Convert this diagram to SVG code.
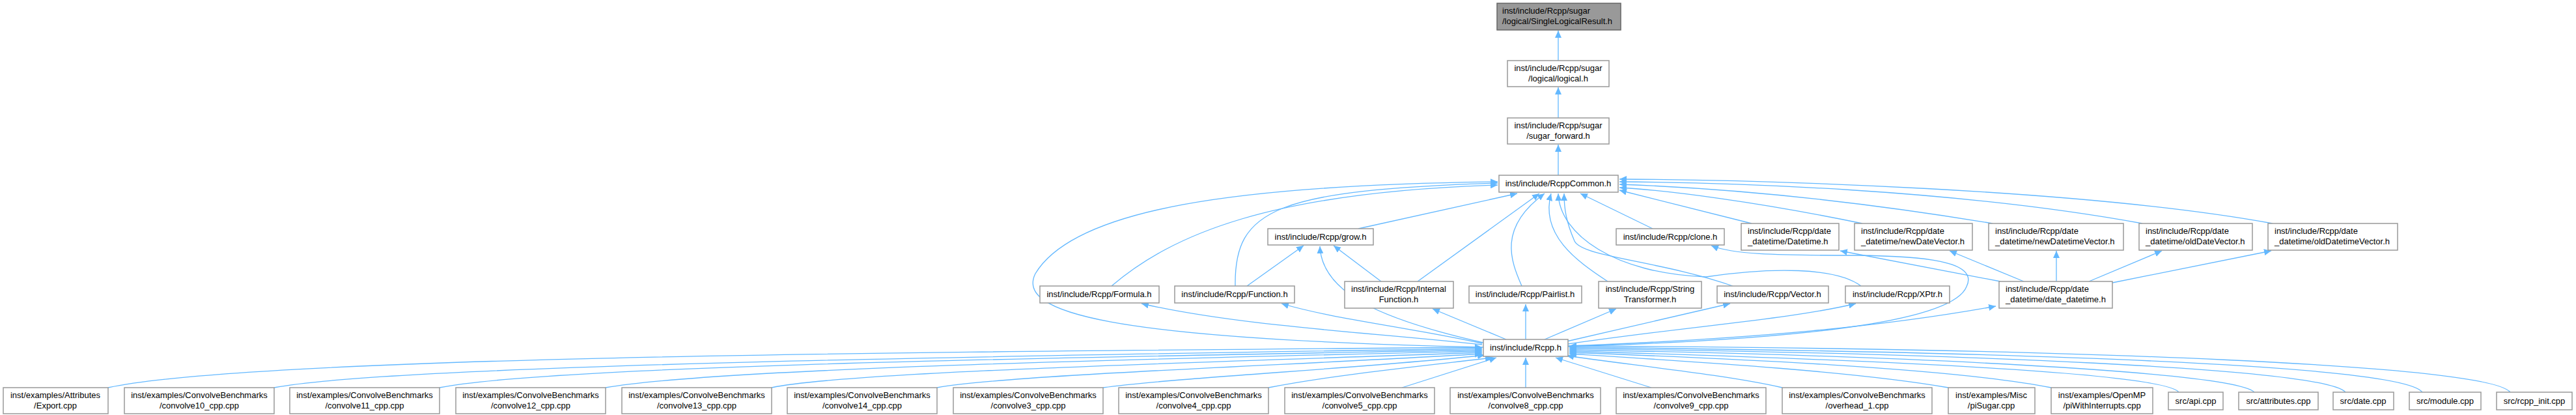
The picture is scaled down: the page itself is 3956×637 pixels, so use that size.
<svg xmlns="http://www.w3.org/2000/svg" width="3956" height="637" viewBox="0 0 3956 637">
<style>
.n rect{fill:#fff;stroke:#999;stroke-width:1.5}
.root rect{fill:#999;stroke:#666}
text{font-family:"Liberation Sans",Arial,sans-serif;font-size:13px;fill:#000}
.c{text-anchor:middle}
#edges path{fill:none;stroke:#63b8ff;stroke-width:1.3;marker-end:url(#a)}
</style>
<defs><marker id="a" markerUnits="userSpaceOnUse" markerWidth="12" markerHeight="10" refX="11" refY="5" orient="auto"><path d="M0,0 L11,5 L0,10 z" fill="#63b8ff"/></marker></defs>
<rect width="3956" height="637" fill="#fff"/>
<g id="edges">
<path d="M2393,93 L2393,47"/>
<path d="M2393,181 L2393,134"/>
<path d="M2393,269 L2393,222"/>
<path d="M2086,351 L2330,297"/>
<path d="M1707,439 C1800,360 1950,295 2300,284"/>
<path d="M1897,439 C1895,320 1960,292 2300,281"/>
<path d="M2278,533 C1700,520 1560,480 1590,420 C1650,320 1900,284 2300,279"/>
<path d="M2177,432 L2364,297"/>
<path d="M2337,439 C2320,400 2300,350 2372,297"/>
<path d="M2469,432 C2420,400 2365,360 2382,297"/>
<path d="M2538,351 L2427,297"/>
<path d="M2661,439 C2550,400 2430,395 2418,370 C2405,340 2402,320 2402,297"/>
<path d="M2858,439 C2820,410 2720,410 2620,425 C2480,420 2395,360 2393,297"/>
<path d="M2690,343 L2487,292"/>
<path d="M2860,343 C2700,310 2560,292 2487,288"/>
<path d="M3060,343 C2800,300 2600,287 2487,283"/>
<path d="M3290,343 C3000,290 2650,280 2487,279"/>
<path d="M3490,343 C3200,290 2700,276 2487,275"/>
<path d="M2408,532 C2800,520 3000,490 3020,440 C3040,400 2950,393 2850,392 C2720,392 2660,390 2628,377"/>
<path d="M3072,432 L2826,385"/>
<path d="M3108,432 L2994,385"/>
<path d="M3158,432 L3158,385"/>
<path d="M3208,432 L3320,385"/>
<path d="M3244,434 L3488,385"/>
<path d="M1915,439 L2002,377"/>
<path d="M2121,432 L2048,377"/>
<path d="M2278,526 C2120,490 2030,450 2027,378"/>
<path d="M2276,529 C2100,510 1900,500 1753,466"/>
<path d="M2276,527 C2150,500 2050,490 1968,466"/>
<path d="M2313,521 L2200,474"/>
<path d="M2343,521 L2343,467"/>
<path d="M2372,521 L2482,474"/>
<path d="M2406,524 L2657,466"/>
<path d="M2408,528 C2600,500 2750,490 2850,466"/>
<path d="M2408,531 C2700,520 2900,500 3065,470"/>
<path d="M166,595 C400,545 1500,540 2276,533"/>
<path d="M421,595 C600,560 1600,545 2276,535"/>
<path d="M675,595 C850,560 1700,548 2276,537"/>
<path d="M930,595 C1100,565 1800,550 2276,539"/>
<path d="M1185,595 C1300,570 1900,555 2276,541"/>
<path d="M1439,595 C1550,575 2000,560 2276,543"/>
<path d="M1694,595 C1800,580 2100,565 2280,545"/>
<path d="M1948,595 C2050,575 2200,560 2292,549"/>
<path d="M2153,595 L2298,549"/>
<path d="M2343,595 L2343,549"/>
<path d="M2536,595 L2389,549"/>
<path d="M2737,595 C2650,575 2500,560 2406,546"/>
<path d="M2992,595 C2850,570 2600,555 2410,543"/>
<path d="M3150,595 C3000,565 2650,550 2410,541"/>
<path d="M3346,602 C3320,570 2800,550 2410,539"/>
<path d="M3462,602 C3430,570 2900,545 2410,537"/>
<path d="M3602,602 C3570,565 3000,542 2410,535"/>
<path d="M3720,602 C3690,560 3100,540 2410,533"/>
<path d="M3855,602 C3820,560 3200,535 2410,531"/>
</g>
<g id="n0" class="n root"><rect x="2299" y="5" width="190" height="41"/><text x="2307" y="21">inst/include/Rcpp/sugar</text><text x="2307" y="37">/logical/SingleLogicalResult.h</text></g>
<g id="n1" class="n"><rect x="2315" y="93" width="156" height="40"/><text class="c" x="2393" y="109">inst/include/Rcpp/sugar</text><text class="c" x="2393" y="125">/logical/logical.h</text></g>
<g id="n2" class="n"><rect x="2315" y="181" width="156" height="40"/><text class="c" x="2393" y="197">inst/include/Rcpp/sugar</text><text class="c" x="2393" y="213">/sugar_forward.h</text></g>
<g id="n3" class="n"><rect x="2302" y="269" width="183" height="26"/><text class="c" x="2393" y="286">inst/include/RcppCommon.h</text></g>
<g id="n4" class="n"><rect x="1947" y="351" width="162" height="25"/><text class="c" x="2028" y="368">inst/include/Rcpp/grow.h</text></g>
<g id="n5" class="n"><rect x="2482" y="351" width="166" height="25"/><text class="c" x="2565" y="368">inst/include/Rcpp/clone.h</text></g>
<g id="n6" class="n"><rect x="2674" y="343" width="150" height="41"/><text x="2684" y="359">inst/include/Rcpp/date</text><text x="2684" y="375">_datetime/Datetime.h</text></g>
<g id="n7" class="n"><rect x="2848" y="343" width="181" height="41"/><text x="2858" y="359">inst/include/Rcpp/date</text><text x="2858" y="375">_datetime/newDateVector.h</text></g>
<g id="n8" class="n"><rect x="3054" y="343" width="207" height="41"/><text x="3064" y="359">inst/include/Rcpp/date</text><text x="3064" y="375">_datetime/newDatetimeVector.h</text></g>
<g id="n9" class="n"><rect x="3285" y="343" width="174" height="41"/><text x="3295" y="359">inst/include/Rcpp/date</text><text x="3295" y="375">_datetime/oldDateVector.h</text></g>
<g id="n10" class="n"><rect x="3483" y="343" width="199" height="41"/><text x="3493" y="359">inst/include/Rcpp/date</text><text x="3493" y="375">_datetime/oldDatetimeVector.h</text></g>
<g id="n11" class="n"><rect x="1597" y="439" width="183" height="26"/><text class="c" x="1688" y="456">inst/include/Rcpp/Formula.h</text></g>
<g id="n12" class="n"><rect x="1804" y="439" width="184" height="26"/><text class="c" x="1896" y="456">inst/include/Rcpp/Function.h</text></g>
<g id="n13" class="n"><rect x="2065" y="432" width="167" height="41"/><text class="c" x="2148" y="448">inst/include/Rcpp/Internal</text><text class="c" x="2148" y="464">Function.h</text></g>
<g id="n14" class="n"><rect x="2256" y="439" width="173" height="26"/><text class="c" x="2342" y="456">inst/include/Rcpp/Pairlist.h</text></g>
<g id="n15" class="n"><rect x="2455" y="432" width="158" height="41"/><text class="c" x="2534" y="448">inst/include/Rcpp/String</text><text class="c" x="2534" y="464">Transformer.h</text></g>
<g id="n16" class="n"><rect x="2637" y="439" width="171" height="26"/><text class="c" x="2722" y="456">inst/include/Rcpp/Vector.h</text></g>
<g id="n17" class="n"><rect x="2834" y="439" width="160" height="26"/><text class="c" x="2914" y="456">inst/include/Rcpp/XPtr.h</text></g>
<g id="n18" class="n"><rect x="3070" y="432" width="174" height="41"/><text x="3080" y="448">inst/include/Rcpp/date</text><text x="3080" y="464">_datetime/date_datetime.h</text></g>
<g id="n19" class="n"><rect x="2278" y="521" width="130" height="26"/><text class="c" x="2343" y="538">inst/include/Rcpp.h</text></g>
<g id="b0" class="n"><rect x="5" y="595" width="161" height="40"/><text class="c" x="85" y="611">inst/examples/Attributes</text><text class="c" x="85" y="627">/Export.cpp</text></g>
<g id="b1" class="n"><rect x="191" y="595" width="230" height="40"/><text class="c" x="306" y="611">inst/examples/ConvolveBenchmarks</text><text class="c" x="306" y="627">/convolve10_cpp.cpp</text></g>
<g id="b2" class="n"><rect x="445" y="595" width="230" height="40"/><text class="c" x="560" y="611">inst/examples/ConvolveBenchmarks</text><text class="c" x="560" y="627">/convolve11_cpp.cpp</text></g>
<g id="b3" class="n"><rect x="700" y="595" width="230" height="40"/><text class="c" x="815" y="611">inst/examples/ConvolveBenchmarks</text><text class="c" x="815" y="627">/convolve12_cpp.cpp</text></g>
<g id="b4" class="n"><rect x="955" y="595" width="230" height="40"/><text class="c" x="1070" y="611">inst/examples/ConvolveBenchmarks</text><text class="c" x="1070" y="627">/convolve13_cpp.cpp</text></g>
<g id="b5" class="n"><rect x="1209" y="595" width="230" height="40"/><text class="c" x="1324" y="611">inst/examples/ConvolveBenchmarks</text><text class="c" x="1324" y="627">/convolve14_cpp.cpp</text></g>
<g id="b6" class="n"><rect x="1464" y="595" width="230" height="40"/><text class="c" x="1579" y="611">inst/examples/ConvolveBenchmarks</text><text class="c" x="1579" y="627">/convolve3_cpp.cpp</text></g>
<g id="b7" class="n"><rect x="1718" y="595" width="230" height="40"/><text class="c" x="1833" y="611">inst/examples/ConvolveBenchmarks</text><text class="c" x="1833" y="627">/convolve4_cpp.cpp</text></g>
<g id="b8" class="n"><rect x="1973" y="595" width="230" height="40"/><text class="c" x="2088" y="611">inst/examples/ConvolveBenchmarks</text><text class="c" x="2088" y="627">/convolve5_cpp.cpp</text></g>
<g id="b9" class="n"><rect x="2227" y="595" width="231" height="40"/><text class="c" x="2343" y="611">inst/examples/ConvolveBenchmarks</text><text class="c" x="2343" y="627">/convolve8_cpp.cpp</text></g>
<g id="b10" class="n"><rect x="2482" y="595" width="230" height="40"/><text class="c" x="2597" y="611">inst/examples/ConvolveBenchmarks</text><text class="c" x="2597" y="627">/convolve9_cpp.cpp</text></g>
<g id="b11" class="n"><rect x="2737" y="595" width="230" height="40"/><text class="c" x="2852" y="611">inst/examples/ConvolveBenchmarks</text><text class="c" x="2852" y="627">/overhead_1.cpp</text></g>
<g id="b12" class="n"><rect x="2992" y="595" width="133" height="40"/><text class="c" x="3058" y="611">inst/examples/Misc</text><text class="c" x="3058" y="627">/piSugar.cpp</text></g>
<g id="b13" class="n"><rect x="3150" y="595" width="156" height="40"/><text class="c" x="3228" y="611">inst/examples/OpenMP</text><text class="c" x="3228" y="627">/piWithInterrupts.cpp</text></g>
<g id="b14" class="n"><rect x="3330" y="602" width="84" height="27"/><text class="c" x="3372" y="620">src/api.cpp</text></g>
<g id="b15" class="n"><rect x="3438" y="602" width="122" height="27"/><text class="c" x="3499" y="620">src/attributes.cpp</text></g>
<g id="b16" class="n"><rect x="3583" y="602" width="93" height="27"/><text class="c" x="3629" y="620">src/date.cpp</text></g>
<g id="b17" class="n"><rect x="3700" y="602" width="110" height="27"/><text class="c" x="3755" y="620">src/module.cpp</text></g>
<g id="b18" class="n"><rect x="3834" y="602" width="116" height="27"/><text class="c" x="3892" y="620">src/rcpp_init.cpp</text></g>
</svg>
